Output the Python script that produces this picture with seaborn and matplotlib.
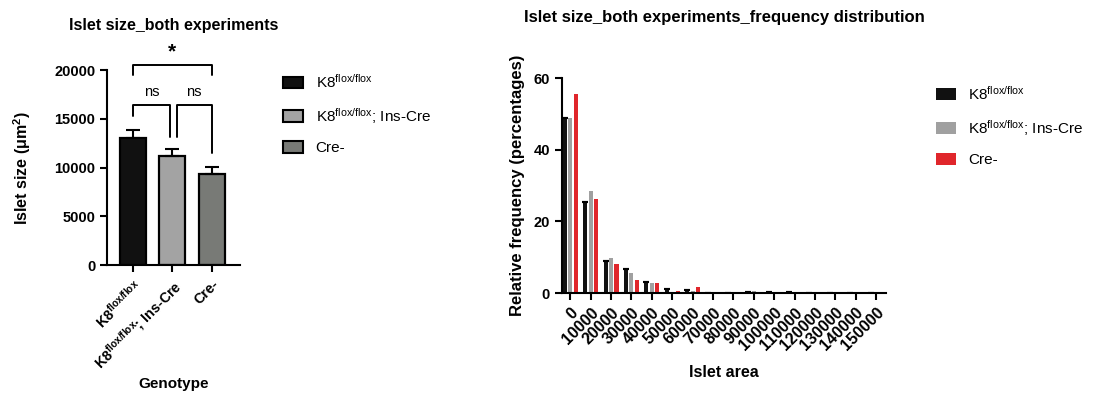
import numpy as np
import pandas as pd
import matplotlib
matplotlib.use("Agg")
import matplotlib.pyplot as plt
import seaborn as sns
from matplotlib.patches import Patch

# ---------------- data ----------------
genotypes = [r"K8$^{\mathregular{flox/flox}}$",
             r"K8$^{\mathregular{flox/flox}}$; Ins-Cre",
             "Cre-"]
islet_mean = [13000, 11200, 9300]
islet_sem = [900, 700, 800]

area_bins = ["0", "10000", "20000", "30000", "40000", "50000", "60000", "70000",
             "80000", "90000", "100000", "110000", "120000", "130000", "140000", "150000"]
freq_k8 = [48.8, 25.3, 9.1, 6.6, 3.2, 1.1, 0.9, 0.1, 0.1, 0.2, 0.2, 0.3, 0.0, 0.1, 0.0, 0.0]
freq_k8_cre = [48.8, 28.5, 9.8, 5.7, 2.8, 0.1, 0.65, 0.1, 0.3, 0.5, 0.1, 0.1, 0.0, 0.0, 0.0, 0.0]
freq_creneg = [55.5, 26.2, 8.0, 3.7, 2.9, 0.7, 1.8, 0.2, 0.1, 0.1, 0.0, 0.0, 0.0, 0.0, 0.0, 0.0]

left_colors = ["#111111", "#a3a3a3", "#787a76"]
right_colors = ["#111111", "#a0a0a0", "#e0262b"]

# ---------------- style ----------------
sns.set_theme(style="ticks")
plt.rcParams["font.family"] = ["Liberation Sans", "DejaVu Sans"]
plt.rcParams["axes.linewidth"] = 1.5
plt.rcParams["xtick.major.width"] = 1.5
plt.rcParams["ytick.major.width"] = 1.5
plt.rcParams["xtick.major.size"] = 5
plt.rcParams["ytick.major.size"] = 5
plt.rcParams["axes.edgecolor"] = "black"
plt.rcParams["mathtext.default"] = "regular"
for k in ["text.color", "axes.labelcolor", "xtick.color", "ytick.color"]:
    plt.rcParams[k] = "black"

fig = plt.figure(figsize=(11.19, 3.94), dpi=100)

# ---------------- left chart ----------------
ax1 = fig.add_axes([0.0956, 0.327, 0.119, 0.495])
df1 = pd.DataFrame({"Genotype": genotypes, "size": islet_mean})
sns.barplot(data=df1, x="Genotype", y="size", hue="Genotype", palette=left_colors,
            saturation=1, edgecolor="black", linewidth=1.6, width=0.66, legend=False, ax=ax1)
xpos = np.arange(len(genotypes))
ax1.errorbar(xpos, islet_mean, yerr=[np.zeros(3), islet_sem], fmt="none",
             ecolor="black", elinewidth=1.5, capsize=5, capthick=1.5, zorder=3)
ax1.set_ylim(0, 20000)
ax1.set_xlim(-0.66, 2.72)
ax1.set_yticks([0, 5000, 10000, 15000, 20000])
ax1.set_yticklabels(["0", "5000", "10000", "15000", "20000"], fontsize=10.5, fontweight="bold")
ax1.set_xticks(xpos)
ax1.set_xticklabels(genotypes, rotation=45, ha="right", rotation_mode="anchor",
                    fontsize=10.3, fontweight="bold")
ax1.set_ylabel(r"Islet size (μm$^{2}$)", fontsize=11.5, fontweight="bold", labelpad=15)
ax1.set_xlabel("Genotype", fontsize=11, fontweight="bold")
ax1.xaxis.set_label_coords(0.5, -0.575)
ax1.set_title("Islet size_both experiments", fontsize=11.5, fontweight="bold", pad=29)
sns.despine(ax=ax1)

# significance brackets
tops = [m + s for m, s in zip(islet_mean, islet_sem)]
def bracket(ax, x0, x1, y, y0, y1, text, ty, fs, fw="normal"):
    ax.plot([x0, x0, x1, x1], [y0, y, y, y1], color="black", lw=1.4, clip_on=False)
    ax.text((x0 + x1) / 2, ty, text, ha="center", va="center", fontsize=fs,
            fontweight=fw, clip_on=False)

bracket(ax1, 0, 0.94, 16400, tops[0] + 1400, tops[1] + 1200, "ns", 17800, 10.5)
bracket(ax1, 1.11, 2, 16400, tops[1] + 1200, tops[2] + 1400, "ns", 17800, 10.5)
bracket(ax1, 0, 2, 20500, 19500, 19500, "*", 21900, 15, "bold")

handles1 = [Patch(facecolor=c, edgecolor="black", linewidth=1.5) for c in left_colors]
fig.legend(handles1, genotypes, loc="upper left", bbox_to_anchor=(0.241, 0.85),
           frameon=False, fontsize=11, handlelength=1.3, handleheight=0.8,
           labelspacing=1.0, handletextpad=0.8)

# ---------------- right chart ----------------
ax2 = fig.add_axes([0.502, 0.256, 0.290, 0.546])
series = [genotypes[0], genotypes[1], "Cre-"]
df2 = pd.DataFrame({
    "area": area_bins * 3,
    "freq": freq_k8 + freq_k8_cre + freq_creneg,
    "group": [series[0]] * 16 + [series[1]] * 16 + [series[2]] * 16,
})
sns.barplot(data=df2, x="area", y="freq", hue="group", palette=right_colors,
            saturation=1, width=0.8, gap=0.25, linewidth=0, legend=True, ax=ax2)
# caps on the black bars
black_bars = ax2.containers[0]
cx = [p.get_x() + p.get_width() / 2 for p in black_bars]
ax2.errorbar(cx, freq_k8, yerr=np.zeros(16), fmt="none", ecolor="black",
             capsize=2.2, capthick=1.5, elinewidth=0, zorder=3)
ax2.set_ylim(0, 60)
ax2.set_xlim(-0.42, 15.5)
ax2.set_yticks([0, 20, 40, 60])
ax2.set_yticklabels(["0", "20", "40", "60"], fontsize=10.5, fontweight="bold")
ax2.set_xticks(range(16))
ax2.set_xticklabels(area_bins, rotation=45, ha="right", rotation_mode="anchor",
                    fontsize=11.5, fontweight="bold")
ax2.set_ylabel("Relative frequency (percentages)", fontsize=12, fontweight="bold", labelpad=6)
ax2.set_xlabel("Islet area", fontsize=11.5, fontweight="bold")
ax2.xaxis.set_label_coords(0.5, -0.335)
ax2.set_title("Islet size_both experiments_frequency distribution", fontsize=12,
              fontweight="bold", pad=40)
sns.despine(ax=ax2)
h2, l2 = ax2.get_legend_handles_labels()
ax2.get_legend().remove()
fig.legend(h2, l2, loc="upper left", bbox_to_anchor=(0.824, 0.82),
           frameon=False, fontsize=11, handlelength=1.3, handleheight=0.8,
           labelspacing=1.0, handletextpad=0.8)

fig.savefig("out.png", dpi=100)
